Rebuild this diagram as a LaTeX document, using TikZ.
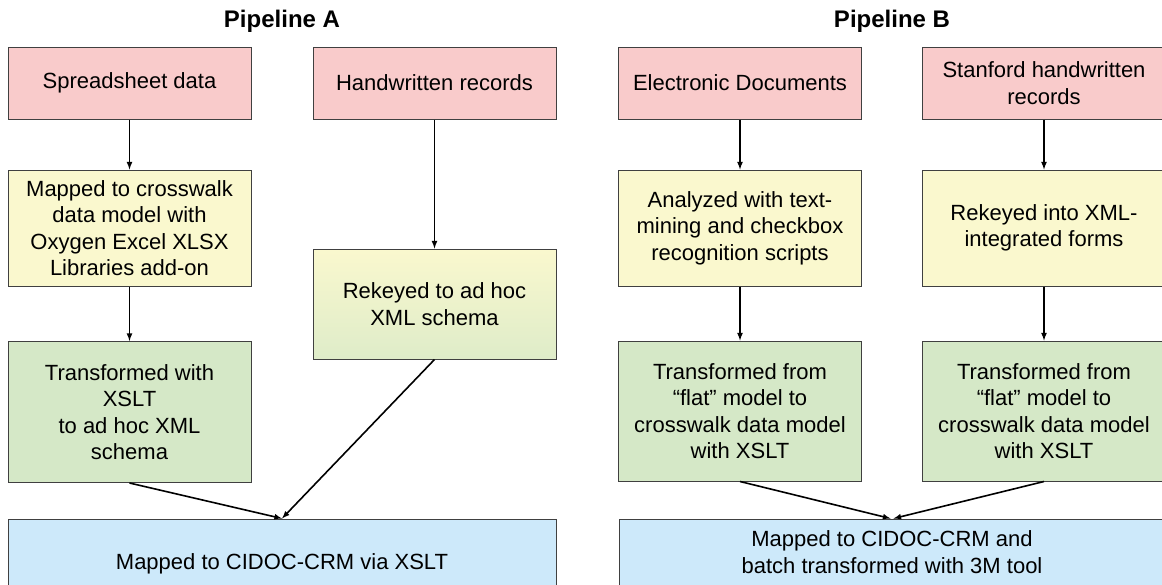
\documentclass[tikz,border=0pt]{standalone}
\usepackage{fontspec}
\setmainfont{Liberation Sans}
\definecolor{srcpink}{RGB}{249,203,203}
\definecolor{steppale}{RGB}{250,248,206}
\definecolor{xsltgreen}{RGB}{213,232,199}
\definecolor{crmblue}{RGB}{205,233,250}
\definecolor{edgegray}{RGB}{64,64,64}

\begin{document}
\begin{tikzpicture}[x=1pt,y=-1pt,
    box/.style={draw=edgegray,line width=1pt,align=center,minimum width=243pt,
      inner sep=0pt,font=\fontsize{22}{26.5}\selectfont},
    srcbox/.style={box,fill=srcpink,minimum height=72pt},
    mapbox/.style={box,fill=steppale,minimum height=116pt},
    trbox/.style={box,fill=xsltgreen,minimum height=141pt},
    crmbox/.style={box,fill=crmblue,minimum height=90pt},
    flow/.style={-latex,line width=1.6pt},
    title/.style={font=\fontsize{24}{28}\selectfont\bfseries}]
        \useasboundingbox (0,0) rectangle (1162,584);
        \clip (0,0) rectangle (1162,584);
        % headings
        \node[title] (titleA) at (282,21) {Pipeline A};
        \node[title] (titleB) at (892,21) {Pipeline B};
        % pipeline A
        \node[srcbox] (sheet) at (129.5,83) {Spreadsheet data};
        \node[srcbox] (hand) at (434.5,83) {Handwritten records};
        \node[mapbox] (crosswalk) at (129.5,228) {Mapped to crosswalk\\data model with\\Oxygen Excel XLSX\\Libraries add-on};
        \node[box,top color=steppale,bottom color=xsltgreen!75!steppale,minimum height=110pt] (adhoc) at (434.5,304) {Rekeyed to ad hoc\\XML schema};
        \node[trbox] (xsltA) at (129.5,412) {Transformed with\\XSLT\\to ad hoc XML\\schema};
        \node[crmbox,minimum width=548pt] (crmA) at (282,564) {Mapped to CIDOC-CRM via XSLT};
        % pipeline B
        \node[srcbox] (edocs) at (740,83) {Electronic Documents};
        \node[srcbox] (stanford) at (1044,83) {Stanford handwritten\\records};
        \node[mapbox] (mining) at (740,228) {Analyzed with text-\\mining and checkbox\\recognition scripts};
        \node[mapbox] (forms) at (1044,228) {Rekeyed into XML-\\integrated forms};
        \node[trbox,minimum height=140pt] (flatA) at (740,411) {Transformed from\\“flat” model to\\crosswalk data model\\with XSLT};
        \node[trbox,minimum height=140pt] (flatB) at (1044,411) {Transformed from\\“flat” model to\\crosswalk data model\\with XSLT};
        \node[crmbox,minimum height=66pt,minimum width=546pt] (crmB) at (892,552) {Mapped to CIDOC-CRM and\\batch transformed with 3M tool};
        % connectors
        \draw[flow] (sheet) -- (crosswalk);
        \draw[flow] (crosswalk) -- (xsltA);
        \draw[flow] (hand) -- (adhoc);
        \draw[flow] (xsltA.south) -- (crmA.north);
        \draw[flow] (adhoc.south) -- (crmA.north);
        \draw[flow] (edocs) -- (mining);
        \draw[flow] (mining) -- (flatA);
        \draw[flow] (stanford) -- (forms);
        \draw[flow] (forms) -- (flatB);
        \draw[flow] (flatA.south) -- ([xshift=-1.5pt]crmB.north);
        \draw[flow] (flatB.south) -- ([xshift=1.5pt]crmB.north);
      \end{tikzpicture}
\end{document}
